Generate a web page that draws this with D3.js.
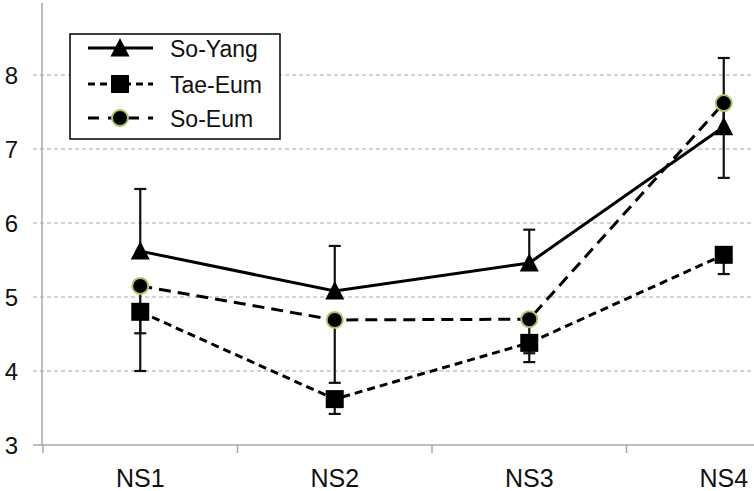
<!DOCTYPE html>
<html>
<head>
<meta charset="utf-8">
<script src="https://cdn.jsdelivr.net/npm/d3@7"></script>
<style>
  html, body { margin: 0; padding: 0; background: #fff; }
  svg { display: block; }
  text { font-family: "Liberation Sans", Arial, sans-serif; fill: #111; }
</style>
</head>
<body>
<script>
const categories = ["NS1", "NS2", "NS3", "NS4"];
const seriesNames = ["So-Yang", "Tae-Eum", "So-Eum"];
const soYang = [5.62, 5.08, 5.46, 7.30];
const taeEum = [4.80, 3.62, 4.38, 5.57];
const soEum = [5.15, 4.69, 4.70, 7.62];
// error bar lengths (one-sided as in the figure)
const soYangErrUp = [0.84, 0.61, 0.45, 0.93];
const taeEumErrDown = [0.80, 0.20, 0.26, 0.26];
const soEumErrDown = [0.64, 0.85, 0.46, 1.01];
const yTicks = [3, 4, 5, 6, 7, 8];

const W = 754, H = 491;
const svg = d3.select("body").append("svg").attr("width", W).attr("height", H);

const x = d3.scaleBand().domain(categories).range([43, 821]);
const y = d3.scaleLinear().domain([3, 9]).range([445, 1]);
const cx = c => x(c) + x.bandwidth() / 2;

// gridlines
svg.append("g").selectAll("line").data(yTicks.filter(t => t > 3)).join("line")
  .attr("x1", 33).attr("x2", W).attr("y1", d => y(d)).attr("y2", d => y(d))
  .attr("stroke", "#a8a8a8").attr("stroke-width", 1).attr("stroke-dasharray", "4,3");

// x axis
const xAxis = d3.axisBottom(x).tickSize(0).tickPadding(0);
const gx = svg.append("g").attr("transform", `translate(0,${y(3)})`).call(xAxis);
gx.select(".domain").remove();
gx.selectAll("text").attr("dy", null).attr("y", 42).attr("font-size", 25)
  .style("font-family", "Liberation Sans, Arial, sans-serif").attr("fill", "#111");
svg.append("line").attr("x1", 33).attr("x2", W).attr("y1", y(3)).attr("y2", y(3))
  .attr("stroke", "#a8a8a8").attr("stroke-width", 1.5);
const boundaries = categories.map(c => x(c));
svg.append("g").selectAll("line").data(boundaries).join("line")
  .attr("x1", d => d).attr("x2", d => d).attr("y1", y(3)).attr("y2", y(3) + 8)
  .attr("stroke", "#a8a8a8").attr("stroke-width", 1.5);

// y axis
svg.append("line").attr("x1", 42).attr("x2", 42).attr("y1", 3).attr("y2", y(3))
  .attr("stroke", "#a8a8a8").attr("stroke-width", 1.5);
const yAxis = d3.axisLeft(y).tickValues(yTicks).tickFormat(d3.format("d")).tickSize(0).tickPadding(0);
const gy = svg.append("g").attr("transform", "translate(18,0)").call(yAxis);
gy.select(".domain").remove();
gy.selectAll("text").attr("x", 0).attr("dy", "0.35em").attr("font-size", 24)
  .style("font-family", "Liberation Sans, Arial, sans-serif").attr("fill", "#111");

// error bars
const errGroup = svg.append("g").attr("stroke", "#111").attr("stroke-width", 2.2);
function errBars(vals, errs, dir) {
  categories.forEach((c, i) => {
    const x0 = cx(c), y0 = y(vals[i]), y1 = y(vals[i] + dir * errs[i]);
    errGroup.append("line").attr("x1", x0).attr("x2", x0).attr("y1", y0).attr("y2", y1);
    errGroup.append("line").attr("x1", x0 - 6).attr("x2", x0 + 6).attr("y1", y1).attr("y2", y1);
  });
}
errBars(soYang, soYangErrUp, 1);
errBars(taeEum, taeEumErrDown, -1);
errBars(soEum, soEumErrDown, -1);

// lines
const line = d3.line().x((d, i) => cx(categories[i])).y(d => y(d));
const styles = [
  { vals: soYang, dash: null },
  { vals: taeEum, dash: "8,5" },
  { vals: soEum, dash: "12,7" }
];
styles.forEach(s => {
  svg.append("path").datum(s.vals).attr("d", line)
    .attr("fill", "none").attr("stroke", "#000").attr("stroke-width", 3)
    .attr("stroke-dasharray", s.dash);
});

// markers
function tri(g, px, py) {
  g.append("path").attr("d", `M${px},${py - 10}L${px + 9.5},${py + 8.5}L${px - 9.5},${py + 8.5}Z`)
    .attr("fill", "#000");
}
function sq(g, px, py) {
  g.append("rect").attr("x", px - 9).attr("y", py - 9).attr("width", 18).attr("height", 18)
    .attr("fill", "#000");
}
function circ(g, px, py) {
  g.append("circle").attr("cx", px).attr("cy", py).attr("r", 8)
    .attr("fill", "#000").attr("stroke", "#a9c46c").attr("stroke-width", 2);
}
const mk = svg.append("g");
categories.forEach((c, i) => {
  sq(mk, cx(c), y(taeEum[i]));
  tri(mk, cx(c), y(soYang[i]));
  circ(mk, cx(c), y(soEum[i]));
});

// legend
const lg = svg.append("g");
lg.append("rect").attr("x", 70).attr("y", 34).attr("width", 210).attr("height", 105)
  .attr("fill", "#fff").attr("stroke", "#000").attr("stroke-width", 1.5);
const rows = [48, 84, 118];
const markerFns = [tri, sq, circ];
seriesNames.forEach((name, i) => {
  const ry = rows[i];
  lg.append("line").attr("x1", 88).attr("x2", 153).attr("y1", ry).attr("y2", ry)
    .attr("stroke", "#000").attr("stroke-width", 3)
    .attr("stroke-dasharray", i === 0 ? null : (i === 1 ? "7,5" : "11,9"));
  markerFns[i](lg, 120, ry);
  lg.append("text").attr("x", 170).attr("y", ry + 9).attr("font-size", 23).text(name);
});
</script>
</body>
</html>
